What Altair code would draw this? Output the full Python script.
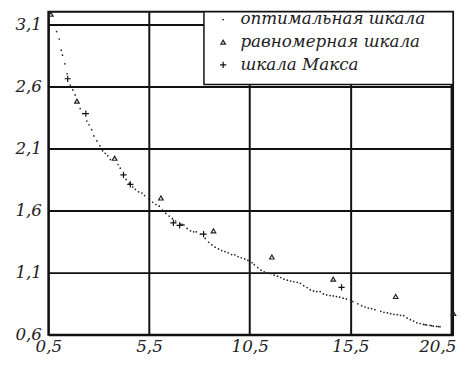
import altair as alt
import pandas as pd

# ---- data ----
opt_x = [0.91, 1.04, 1.14, 1.20, 1.32, 1.43, 1.59, 1.71, 1.83, 2.08, 2.21, 2.41, 2.52, 2.65,
         2.76, 2.91, 3.06, 3.19, 3.32, 3.45, 3.58, 3.96, 4.07, 4.36, 4.52, 4.69, 4.82, 4.98,
         5.15, 5.28, 5.50, 5.68, 5.84, 6.01, 6.17, 6.33, 6.50, 6.66, 6.82, 7.06, 7.14, 7.23,
         7.39, 7.56, 7.72, 7.85, 8.05, 8.29, 8.46, 8.62, 8.78, 8.95, 9.11, 9.27, 9.43, 9.60,
         9.76, 9.92, 10.08, 10.25, 10.41, 10.62, 10.73, 10.90, 11.06, 11.22, 11.39, 11.55,
         11.71, 11.88, 12.04, 12.20, 12.37, 12.53, 12.69, 12.86, 13.02, 13.18, 13.35, 13.51,
         13.67, 13.83, 14.00, 14.16, 14.32, 14.49, 14.65, 14.81, 14.97, 15.14, 15.30, 15.51,
         15.62, 15.87, 16.06, 16.23, 16.39, 16.55, 16.72, 17.01, 17.17, 17.34, 17.50, 17.66,
         17.83, 17.99, 18.15, 18.32, 18.48, 18.64, 18.80, 18.97, 19.13, 19.21, 19.29, 19.46,
         19.54, 19.62, 19.78, 19.87, 19.95]
opt_y = [3.04, 2.98, 2.89, 2.85, 2.78, 2.70, 2.61, 2.57, 2.53, 2.42, 2.38, 2.32, 2.29, 2.25,
         2.20, 2.16, 2.12, 2.08, 2.06, 2.04, 2.01, 1.97, 1.94, 1.85, 1.82, 1.79, 1.77, 1.75,
         1.74, 1.72, 1.69, 1.666, 1.648, 1.634, 1.602, 1.576, 1.555, 1.534, 1.515, 1.49, 1.488, 1.483,
         1.455, 1.436, 1.428, 1.428, 1.41, 1.375, 1.344, 1.322, 1.304, 1.29, 1.277, 1.269, 1.259, 1.245,
         1.243, 1.229, 1.219, 1.21, 1.198, 1.179, 1.163, 1.14, 1.119, 1.106, 1.098, 1.092,
         1.079, 1.071, 1.06, 1.047, 1.039, 1.031, 1.026, 1.021, 1.013, 0.994, 0.979, 0.96,
         0.952, 0.947, 0.947, 0.928, 0.92, 0.915, 0.912, 0.907, 0.902, 0.894, 0.888, 0.88,
         0.867, 0.848, 0.833, 0.822, 0.814, 0.809, 0.801, 0.788, 0.78, 0.775, 0.769, 0.764,
         0.761, 0.756, 0.753, 0.735, 0.721, 0.709, 0.695, 0.69, 0.682, 0.68, 0.677, 0.674,
         0.672, 0.669, 0.666, 0.665, 0.664]

uni_x = [0.62, 1.92, 3.79, 6.09, 8.70, 11.60, 14.65, 17.75, 20.62]
uni_y = [3.18, 2.48, 2.02, 1.70, 1.436, 1.225, 1.047, 0.907, 0.77]

max_x = [1.46, 2.36, 4.23, 4.57, 6.71, 7.02, 8.21, 15.06]
max_y = [2.66, 2.38, 1.886, 1.81, 1.50, 1.48, 1.41, 0.98]

series = ["оптимальная шкала", "равномерная шкала", "шкала Макса"]
x_ticks = [0.5, 5.5, 10.5, 15.5, 20.5]
y_ticks = [0.6, 1.1, 1.6, 2.1, 2.6, 3.1]

df = pd.concat([
    pd.DataFrame({"x": opt_x, "y": opt_y, "series": series[0]}),
    pd.DataFrame({"x": uni_x, "y": uni_y, "series": series[1]}),
    pd.DataFrame({"x": max_x, "y": max_y, "series": series[2]}),
], ignore_index=True)

FONT = "DejaVu Serif"
label_expr = "replace(format(datum.value, '.1f'), '.', ',')"

leg = alt.Legend(
    title=None, orient="none", legendX=169, legendY=-0.5, padding=0,
    labelFont=FONT, labelFontStyle="italic", labelFontSize=17, labelColor="#222",
    labelOffset=9, rowPadding=5, symbolStrokeWidth=1.2, labelLimit=400,
)

plus_path = "M-1,0L1,0M0,-1L0,1"

points = alt.Chart(df).mark_point(opacity=1, strokeWidth=1.2).encode(
    x=alt.X("x:Q", scale=alt.Scale(domain=[0.5, 20.6], nice=False, zero=False),
            axis=alt.Axis(values=x_ticks, labelExpr=label_expr, title=None, labelFlush=False,
                          labelFont=FONT, labelFontStyle="italic", labelFontSize=17, labelColor="#222",
                          labelOffset=alt.condition("datum.value > 20", alt.value(-14), alt.value(0)),
                          labelPadding=4)),
    y=alt.Y("y:Q", scale=alt.Scale(domain=[0.6, 3.2], nice=False, zero=False),
            axis=alt.Axis(values=y_ticks, labelExpr=label_expr, title=None, labelFlush=False,
                          labelFont=FONT, labelFontStyle="italic", labelFontSize=17, labelColor="#222",
                          labelPadding=7)),
    shape=alt.Shape("series:N", scale=alt.Scale(domain=series, range=["circle", "triangle-up", plus_path]), legend=leg),
    size=alt.Size("series:N", scale=alt.Scale(domain=series, range=[3, 40, 180]), legend=leg),
    fill=alt.Fill("series:N", scale=alt.Scale(domain=series, range=["#222222", "transparent", "transparent"]), legend=leg),
    stroke=alt.Stroke("series:N", scale=alt.Scale(domain=series, range=["transparent", "#222222", "#111111"]), legend=leg),
)

box = alt.Chart(pd.DataFrame({"a": [0]})).mark_rect(fill="white", stroke="#111", strokeWidth=1.5).encode(
    x=alt.value(158), x2=alt.value(411), y=alt.value(0), y2=alt.value(74)
)

chart = alt.layer(points, box).properties(
    width=411, height=328,
    autosize=alt.AutoSizeParams(type="none"),
    padding={"left": 41, "top": 1, "right": 4, "bottom": 24},
).configure_view(
    stroke="#111", strokeWidth=2
).configure_axis(
    domain=False, ticks=False, grid=True, gridColor="#111", gridWidth=2, gridOpacity=1,
)

chart.save("out.html", embed_options={"renderer": "svg", "actions": False})
